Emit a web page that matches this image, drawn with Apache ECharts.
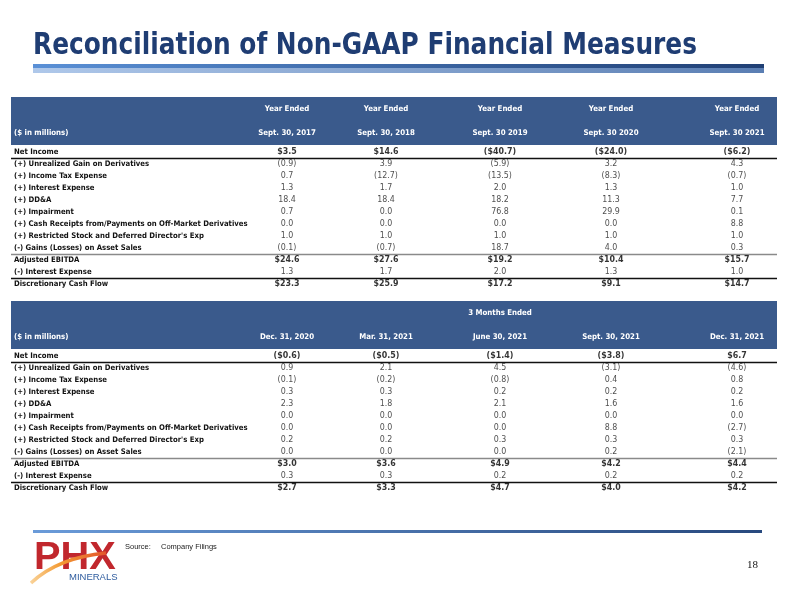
<!DOCTYPE html>
<html><head><meta charset="utf-8">
<script src="https://cdn.jsdelivr.net/npm/echarts@6/dist/echarts.min.js"></script>
<style>html,body{margin:0;padding:0;background:#fff}#c{width:792px;height:594px}</style>
</head><body><div id="c"></div>
<script>
// ---------------- data ----------------
const rowLabels = [
  "Net Income",
  "(+) Unrealized Gain on Derivatives",
  "(+) Income Tax Expense",
  "(+) Interest Expense",
  "(+) DD&A",
  "(+) Impairment",
  "(+) Cash Receipts from/Payments on Off-Market Derivatives",
  "(+) Restricted Stock and Deferred Director's Exp",
  "(-) Gains (Losses) on Asset Sales",
  "Adjusted EBITDA",
  "(-) Interest Expense",
  "Discretionary Cash Flow"
];
const totalRows = ["Net Income", "Adjusted EBITDA", "Discretionary Cash Flow"];
const ruleAboveRows = ["(+) Unrealized Gain on Derivatives", "Adjusted EBITDA", "Discretionary Cash Flow"];

const annualTitle = "Year Ended";
const annualHeaders = ["Sept. 30, 2017", "Sept. 30, 2018", "Sept. 30 2019", "Sept. 30 2020", "Sept. 30 2021"];
const fy2017 = [3.5, -0.9, 0.7, 1.3, 18.4, 0.7, 0.0, 1.0, -0.1, 24.6, 1.3, 23.3];
const fy2018 = [14.6, 3.9, -12.7, 1.7, 18.4, 0.0, 0.0, 1.0, -0.7, 27.6, 1.7, 25.9];
const fy2019 = [-40.7, -5.9, -13.5, 2.0, 18.2, 76.8, 0.0, 1.0, 18.7, 19.2, 2.0, 17.2];
const fy2020 = [-24.0, 3.2, -8.3, 1.3, 11.3, 29.9, 0.0, 1.0, 4.0, 10.4, 1.3, 9.1];
const fy2021 = [-6.2, 4.3, -0.7, 1.0, 7.7, 0.1, 8.8, 1.0, 0.3, 15.7, 1.0, 14.7];

const quarterTitle = "3 Months Ended";
const quarterHeaders = ["Dec. 31, 2020", "Mar. 31, 2021", "June 30, 2021", "Sept. 30, 2021", "Dec. 31, 2021"];
const q_dec2020 = [-0.6, 0.9, -0.1, 0.3, 2.3, 0.0, 0.0, 0.2, 0.0, 3.0, 0.3, 2.7];
const q_mar2021 = [-0.5, 2.1, -0.2, 0.3, 1.8, 0.0, 0.0, 0.2, 0.0, 3.6, 0.3, 3.3];
const q_jun2021 = [-1.4, 4.5, -0.8, 0.2, 2.1, 0.0, 0.0, 0.3, 0.0, 4.9, 0.2, 4.7];
const q_sep2021 = [-3.8, -3.1, 0.4, 0.2, 1.6, 0.0, 8.8, 0.3, 0.2, 4.2, 0.2, 4.0];
const q_dec2021 = [6.7, -4.6, 0.8, 0.2, 1.6, 0.0, -2.7, 0.3, -2.1, 4.4, 0.2, 4.2];

// ---------------- layout / style ----------------
const COND = "'DejaVu Sans Condensed','Liberation Sans',sans-serif";
const SANS = "'Liberation Sans',Arial,sans-serif";
const HEADER_BG = '#3A5A8C';
const colCenters = [287, 386, 500, 611, 737];
const colWidth = 96;
const tables = [
  { top: 146, headerTop: 97, title: annualTitle, titleCols: [0,1,2,3,4], headers: annualHeaders,
    cols: [fy2017, fy2018, fy2019, fy2020, fy2021] },
  { top: 350, headerTop: 301, title: quarterTitle, titleCols: [2], headers: quarterHeaders,
    cols: [q_dec2020, q_mar2021, q_jun2021, q_sep2021, q_dec2021] }
];
const ROWS_H = 144;
const LABEL_SIZE = 7.7, VALUE_SIZE = 8.8, HEAD_SIZE = 7.8;

function fmt(v, total) {
  const a = Math.abs(v).toFixed(1);
  const s = total ? '$' + a : a;
  return v < 0 ? '(' + s + ')' : s;
}
function fitScale(text, font, target) {
  const ctx = document.createElement('canvas').getContext('2d');
  ctx.font = font;
  const w = ctx.measureText(text).width;
  return w > 0 ? target / w : 1;
}

const grid = [], xAxis = [], yAxis = [], series = [], graphic = [];

tables.forEach(t => {
  graphic.push({ type: 'rect', z: -5, shape: { x: 11, y: t.headerTop, width: 766, height: t.top - t.headerTop - 1 },
    style: { fill: HEADER_BG } });
  graphic.push({ type: 'text', x: 14, y: t.headerTop + 36, z: 5,
    style: { text: '($ in millions)', fill: '#fff', fontFamily: COND, fontWeight: 'bold', fontSize: HEAD_SIZE, textVerticalAlign: 'middle' } });

  const gi = grid.length;
  grid.push({ left: 11, right: 15, top: t.top, height: ROWS_H });
  xAxis.push({ type: 'value', gridIndex: gi, show: false, min: 0, max: 1 });
  yAxis.push({
    type: 'category', gridIndex: gi, inverse: true, data: rowLabels,
    axisLine: { show: false }, axisTick: { show: false },
    axisLabel: { inside: true, margin: 3, interval: 0, fontFamily: COND, fontSize: LABEL_SIZE, fontWeight: 'bold', color: '#111' },
    splitLine: { show: true, showMinLine: true, showMaxLine: false,
      interval: (i, v) => ruleAboveRows.indexOf(v) >= 0,
      lineStyle: { color: ['#111', '#8a8a8a', '#111'], width: 1.4 } }
  });

  t.cols.forEach((vals, c) => {
    const g = grid.length;
    grid.push({ left: colCenters[c] - colWidth / 2, width: colWidth, top: t.top, height: ROWS_H });
    const showTitle = t.titleCols.indexOf(c) >= 0;
    xAxis.push({
      type: 'category', gridIndex: g, position: 'top', data: [t.headers[c]],
      axisLine: { show: false }, axisTick: { show: false },
      axisLabel: { color: '#fff', fontFamily: COND, fontWeight: 'bold', fontSize: HEAD_SIZE, margin: 9 },
      name: showTitle ? t.title : '', nameLocation: 'middle', nameGap: 33,
      nameTextStyle: { color: '#fff', fontFamily: COND, fontWeight: 'bold', fontSize: HEAD_SIZE }
    });
    yAxis.push({ type: 'category', gridIndex: g, inverse: true, data: rowLabels, show: false });
    series.push({
      type: 'scatter', xAxisIndex: g, yAxisIndex: g, symbolSize: 0, silent: true,
      itemStyle: { color: 'rgba(0,0,0,0)' },
      emphasis: { disabled: true },
      label: { show: true, position: 'inside', fontFamily: COND, fontSize: VALUE_SIZE,
        formatter: p => fmt(p.value[2], totalRows.indexOf(p.value[1]) >= 0) },
      data: rowLabels.map((r, i) => {
        const total = totalRows.indexOf(r) >= 0;
        return { value: [t.headers[c], r, vals[i]],
          label: { fontWeight: total ? 'bold' : 'normal', color: total ? '#000' : '#1c1c1c' } };
      })
    });
  });
});

// title + bars
const TITLE = 'Reconciliation of Non-GAAP Financial Measures';
const titleScale = fitScale(TITLE, "bold 31px 'DejaVu Sans Condensed'", 664);
graphic.push({ type: 'text', x: 33, y: 46, scaleX: titleScale, style: { text: TITLE,
  fill: '#1F3D73', fontFamily: COND, fontWeight: 'bold', fontSize: 31, textVerticalAlign: 'middle' } });
graphic.push({ type: 'rect', shape: { x: 33, y: 64, width: 731, height: 4 },
  style: { fill: new echarts.graphic.LinearGradient(0, 0, 1, 0, [{ offset: 0, color: '#5A90D6' }, { offset: 1, color: '#203F74' }]) } });
graphic.push({ type: 'rect', shape: { x: 33, y: 68, width: 731, height: 5 },
  style: { fill: new echarts.graphic.LinearGradient(0, 0, 1, 0, [{ offset: 0, color: '#AFC8EA' }, { offset: 1, color: '#5A7EB3' }]) } });
// footer line
graphic.push({ type: 'rect', shape: { x: 33, y: 530, width: 729, height: 3 },
  style: { fill: new echarts.graphic.LinearGradient(0, 0, 1, 0, [{ offset: 0, color: '#6A9BD9' }, { offset: 1, color: '#28497E' }]) } });
// logo
graphic.push({ type: 'text', x: 34, y: 558, scaleX: 1.02, style: { text: 'PHX', fill: '#C1272D', fontFamily: SANS, fontWeight: 'bold', fontSize: 39, textVerticalAlign: 'middle' } });
graphic.push({ type: 'bezierCurve', shape: { x1: 31, y1: 583, cpx1: 50, cpy1: 565, cpx2: 75, cpy2: 556, x2: 106, y2: 553 },
  style: { stroke: new echarts.graphic.LinearGradient(0, 0, 1, 0, [{ offset: 0, color: '#FAD7A0' }, { offset: 0.4, color: '#F39A33' }, { offset: 1, color: '#E2502A' }]), lineWidth: 3.5, fill: null } });
graphic.push({ type: 'text', x: 69, y: 577, style: { text: 'MINERALS', fill: '#2F5C9E', fontFamily: SANS, fontSize: 9.5, textVerticalAlign: 'middle' } });
// source + page
graphic.push({ type: 'text', x: 125, y: 547, style: { text: 'Source:', fill: '#222', fontFamily: SANS, fontSize: 7.5, textVerticalAlign: 'middle' } });
graphic.push({ type: 'text', x: 161, y: 547, style: { text: 'Company Filings', fill: '#222', fontFamily: SANS, fontSize: 7.5, textVerticalAlign: 'middle' } });
graphic.push({ type: 'text', x: 747, y: 565, style: { text: '18', fill: '#111', fontFamily: "'Liberation Serif',serif", fontSize: 11, textVerticalAlign: 'middle' } });

const chart = echarts.init(document.getElementById('c'), null, { renderer: 'canvas' });
chart.setOption({
  animation: false,
  backgroundColor: '#fff',
  grid, xAxis, yAxis, series, graphic
});
</script>
</body></html>
